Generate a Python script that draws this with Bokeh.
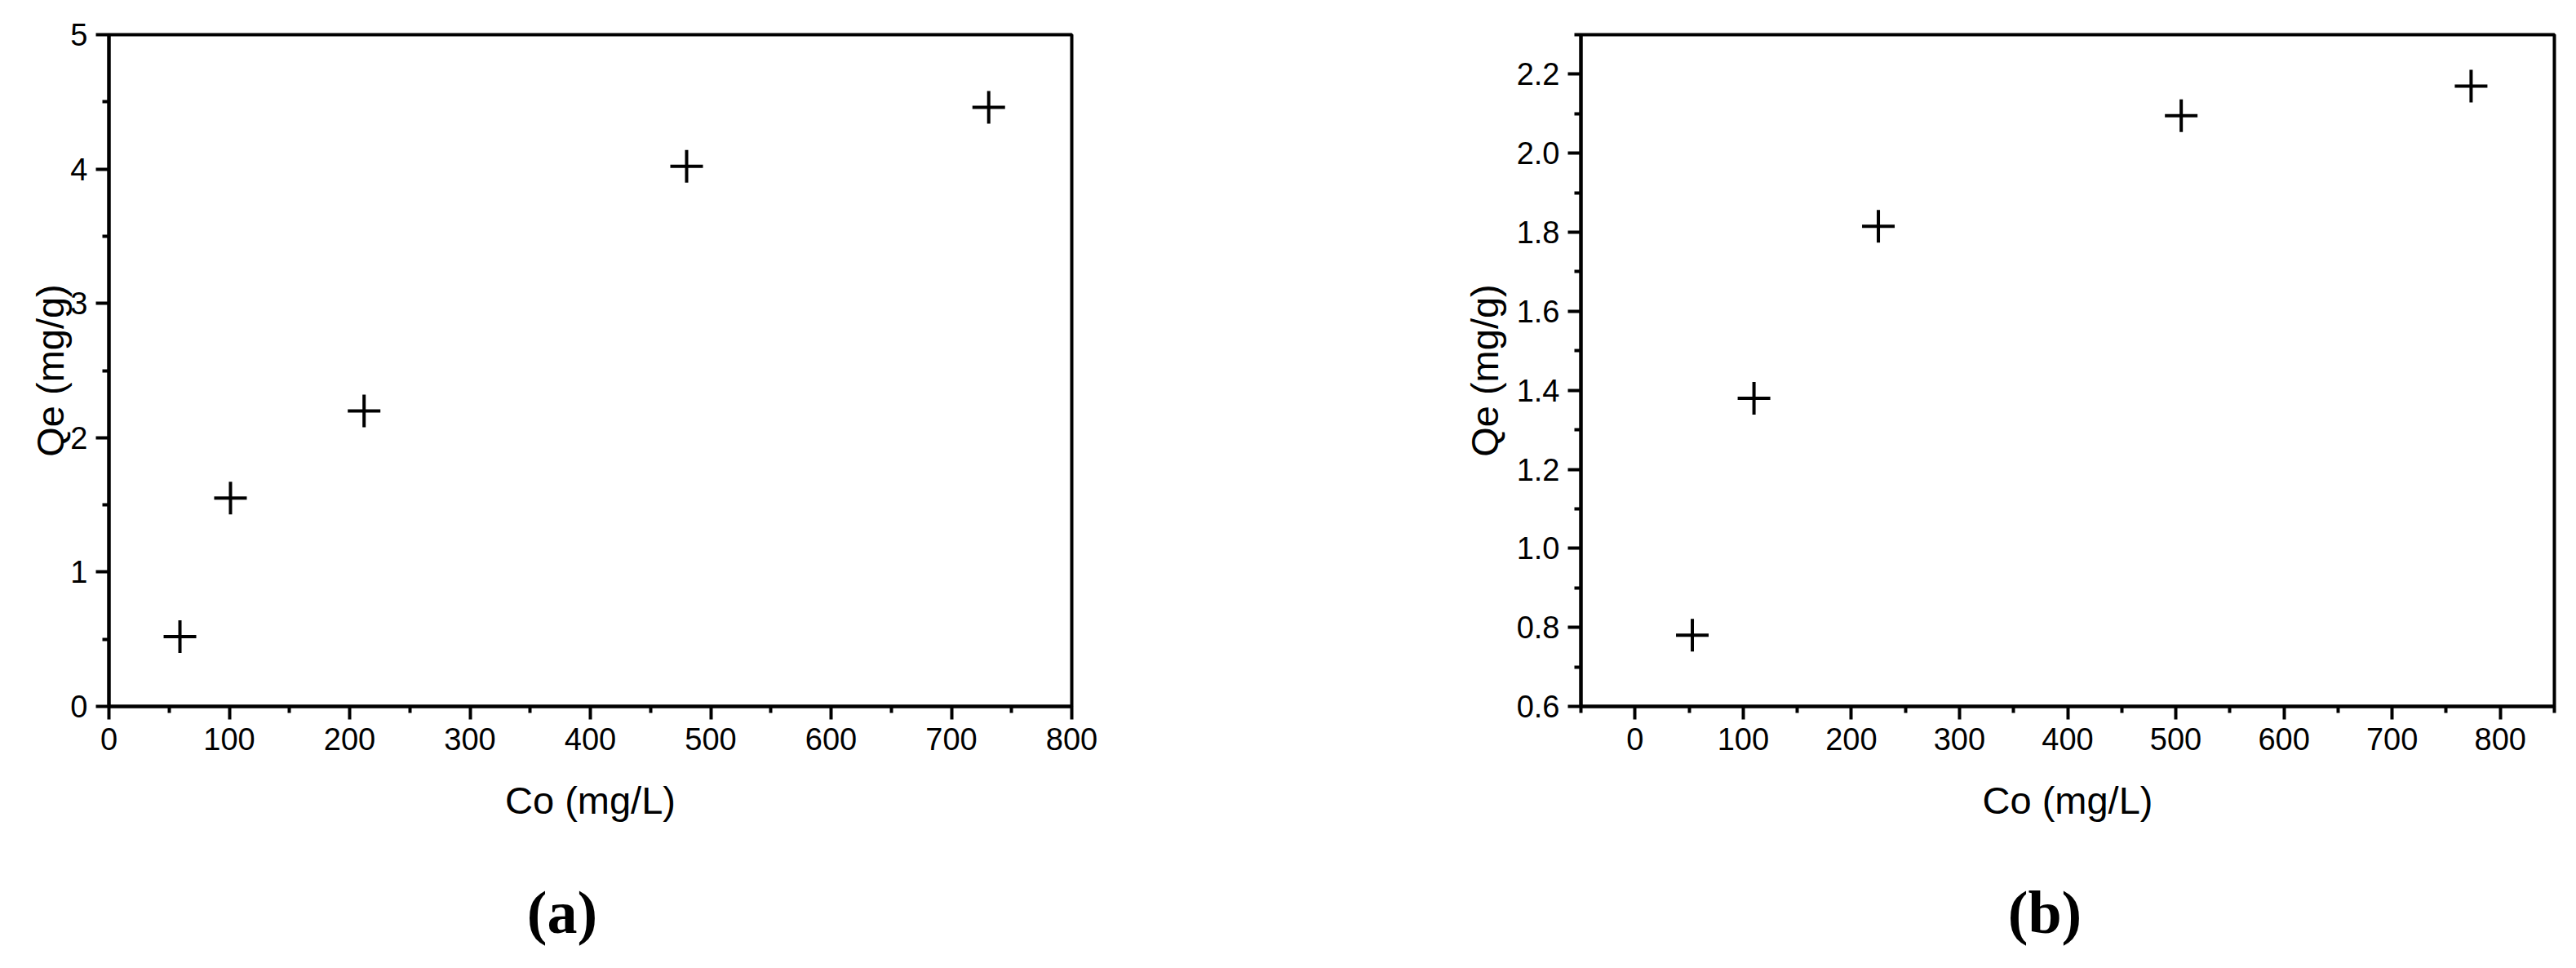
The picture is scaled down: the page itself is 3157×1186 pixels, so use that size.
from bokeh.plotting import figure
from bokeh.models import Range1d, FixedTicker, PrintfTickFormatter, Div, Spacer
from bokeh.layouts import row, column
from bokeh.embed import file_html
from bokeh.resources import INLINE

# ---- data ----
co_a = [59, 101, 212, 480, 731]
qe_a = [0.52, 1.55, 2.20, 4.02, 4.46]
co_b = [53, 110, 225, 505, 773]
qe_b = [0.78, 1.38, 1.815, 2.095, 2.17]

x_ticks_a = [0, 100, 200, 300, 400, 500, 600, 700, 800]
x_minor_a = [50, 150, 250, 350, 450, 550, 650, 750]
y_ticks_a = [0, 1, 2, 3, 4, 5]
y_minor_a = [0.5, 1.5, 2.5, 3.5, 4.5]

x_ticks_b = [0, 100, 200, 300, 400, 500, 600, 700, 800]
x_minor_b = [-50, 50, 150, 250, 350, 450, 550, 650, 750, 850]
y_ticks_b = [0.6, 0.8, 1.0, 1.2, 1.4, 1.6, 1.8, 2.0, 2.2]
y_minor_b = [0.7, 0.9, 1.1, 1.3, 1.5, 1.7, 1.9, 2.1, 2.3]

x_label = "Co (mg/L)"
y_label = "Qe (mg/g)"
panel_a = "(a)"
panel_b = "(b)"

SANS = "Liberation Sans"
SERIF = "Liberation Serif"
HEIGHT = 1040


def style_axis(ax, label_standoff):
    ax.axis_line_width = 4
    ax.axis_line_color = "black"
    ax.major_tick_line_width = 4
    ax.minor_tick_line_width = 4
    ax.major_tick_line_color = "black"
    ax.minor_tick_line_color = "black"
    ax.major_tick_out = 16
    ax.major_tick_in = 0
    ax.minor_tick_out = 8
    ax.minor_tick_in = 0
    ax.major_label_text_font = SANS
    ax.major_label_text_font_size = "38px"
    ax.major_label_text_color = "black"
    ax.major_label_standoff = 10
    ax.axis_label_text_font = SANS
    ax.axis_label_text_font_size = "47px"
    ax.axis_label_text_font_style = "normal"
    ax.axis_label_text_color = "black"
    ax.axis_label_standoff = label_standoff


def make_panel(xs, ys, xr, yr, xt, xm, yt, ym, yfmt, width, borders, ylab_standoff):
    l, r, t, b = borders
    p = figure(width=width, height=HEIGHT, output_backend="svg", toolbar_location=None,
               x_range=Range1d(*xr), y_range=Range1d(*yr),
               min_border_left=l, min_border_right=r, min_border_top=t, min_border_bottom=b)
    p.xgrid.visible = False
    p.ygrid.visible = False
    p.outline_line_color = "black"
    p.outline_line_width = 4
    p.outline_line_alpha = 1
    p.background_fill_color = "white"
    p.border_fill_color = "white"

    p.xaxis.ticker = FixedTicker(ticks=xt, minor_ticks=xm)
    p.yaxis.ticker = FixedTicker(ticks=yt, minor_ticks=ym)
    if yfmt:
        p.yaxis.formatter = PrintfTickFormatter(format=yfmt)
    p.xaxis.axis_label = x_label
    p.yaxis.axis_label = y_label
    style_axis(p.xaxis[0], 32)
    style_axis(p.yaxis[0], ylab_standoff)

    p.scatter(xs, ys, marker="cross", size=40, line_color="black", line_width=4)
    return p


WA, WB = 1708, 1441
pa = make_panel(co_a, qe_a, (0, 800), (0, 5), x_ticks_a, x_minor_a, y_ticks_a, y_minor_a,
                None, WA, (133, 395, 42, HEIGHT - 42 - 823), -5)
pb = make_panel(co_b, qe_b, (-50, 850), (0.6, 2.3), x_ticks_b, x_minor_b, y_ticks_b, y_minor_b,
                "%.1f", WB, (229, 19, 38, HEIGHT - 38 - 830), 10)

tag_style = {"text-align": "center", "font-family": SERIF, "font-weight": "bold",
             "font-size": "74px", "line-height": "74px", "color": "black"}
center_a, center_b = 684, 2491  # horizontal centres of the panel tags on the page
div_w = 600
div_a = Div(text=panel_a, width=div_w, height=80, styles=tag_style)
div_b = Div(text=panel_b, width=div_w, height=80, styles=tag_style)
gap_a = center_a - div_w // 2
gap_b = center_b - div_w // 2 - (gap_a + div_w)
tags = row(Spacer(width=gap_a, height=80), div_a, Spacer(width=gap_b, height=80), div_b)

layout = column(row(pa, pb), Spacer(height=1113 - 37 - HEIGHT), tags)
open("out.html", "w").write(file_html(layout, INLINE))
